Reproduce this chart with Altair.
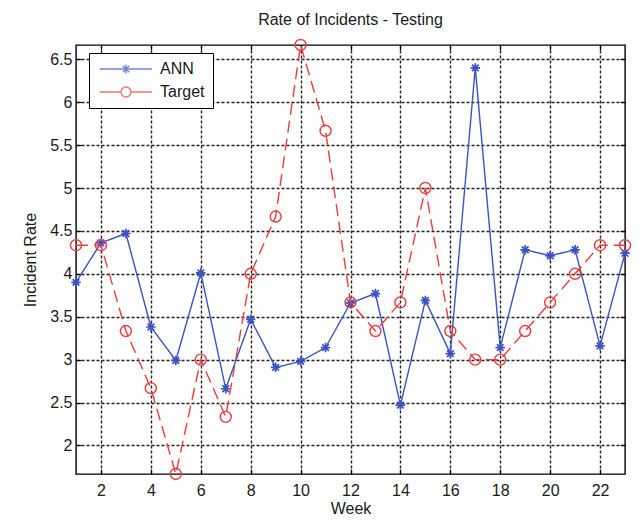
import altair as alt
import pandas as pd

# ---- data ----
weeks = list(range(1, 24))
ann = [3.90, 4.36, 4.47, 3.38, 2.99, 4.01, 2.66, 3.47, 2.91, 2.98, 3.14, 3.66,
       3.77, 2.47, 3.69, 3.07, 6.40, 3.14, 4.28, 4.21, 4.28, 3.16, 4.24]
target = [4.333, 4.333, 3.333, 2.667, 1.667, 3.0, 2.333, 4.0, 4.667, 6.667, 5.667, 3.667,
          3.333, 3.667, 5.0, 3.333, 3.0, 3.0, 3.333, 3.667, 4.0, 4.333, 4.333]
series_names = ["ANN", "Target"]
x_ticks = [2, 4, 6, 8, 10, 12, 14, 16, 18, 20, 22]
y_ticks = [2.0, 2.5, 3.0, 3.5, 4.0, 4.5, 5.0, 5.5, 6.0, 6.5]
x_domain = [1, 23]
y_domain = [1.6667, 6.6667]

# ---- styling ----
BLUE = "#3b53c2"
RED = "#ee3c3c"
TXT = "#1a1a1a"
GRID = "#222222"
FONT = "Liberation Sans"
W, H = 549, 429

df = pd.DataFrame({
    "Week": weeks + weeks,
    "Rate": ann + target,
    "Series": [series_names[0]] * len(weeks) + [series_names[1]] * len(weeks),
})

ASTERISK = "M-1,0L1,0M0,-1L0,1M-0.7,-0.7L0.7,0.7M-0.7,0.7L0.7,-0.7"
LEG_ANN = ("M-1,0L9.4,0M3.3,0L5.1,0M4.2,-0.9L4.2,0.9"
           "M3.56,-0.64L4.84,0.64M3.56,0.64L4.84,-0.64")
LEG_TGT = "M-1,0L3.2,0M5.2,0L9.4,0M3.2,0A1,1 0 1,0 5.2,0A1,1 0 1,0 3.2,0"


def xs():
    return alt.Scale(domain=x_domain, nice=False, zero=False)


def ys():
    return alt.Scale(domain=y_domain, nice=False, zero=False)


lab = dict(labelFont=FONT, titleFont=FONT, labelFontSize=16, titleFontSize=16,
           titleFontWeight="normal", labelColor=TXT, titleColor=TXT,
           domain=False, ticks=False, tickSize=0)
tk = dict(domain=False, ticks=True, tickSize=5, tickColor="black", tickWidth=1.2,
          labels=False, grid=False, offset=-5)

x_bottom = alt.Axis(values=x_ticks, title="Week", grid=True, gridColor=GRID,
                    gridDash=[3, 2], gridWidth=1.4, labelPadding=8, titlePadding=2, **lab)
y_left = alt.Axis(values=y_ticks, title="Incident Rate", format="~g", grid=True,
                  gridColor=GRID, gridDash=[3, 2], gridWidth=1.4, labelPadding=4,
                  titlePadding=11, **lab)
x_bottom_ticks = alt.Axis(orient="bottom", values=x_ticks, **tk)
y_left_ticks = alt.Axis(orient="left", values=y_ticks, **tk)
x_top_ticks = alt.Axis(orient="top", values=x_ticks, **tk)
y_right_ticks = alt.Axis(orient="right", values=y_ticks, **tk)

legend = alt.Legend(
    title=None, orient="none", legendX=13, legendY=8,
    fillColor="white", strokeColor="black", padding=8, cornerRadius=0,
    symbolSize=100, symbolStrokeWidth=1.4, symbolFillColor="transparent",
    labelOffset=47, rowPadding=7,
    labelFont=FONT, labelFontSize=16, labelColor=TXT,
)

base = alt.Chart(df)

ann_line = base.transform_filter(alt.datum.Series == "ANN").mark_line(
    color=BLUE, strokeWidth=1.4, clip=False
).encode(
    x=alt.X("Week:Q", scale=xs(), axis=x_bottom),
    y=alt.Y("Rate:Q", scale=ys(), axis=y_left),
)

ann_pts = base.transform_filter(alt.datum.Series == "ANN").mark_point(
    shape=ASTERISK, size=90, filled=False, color=BLUE, strokeWidth=1.7, opacity=1, clip=False
).encode(
    x=alt.X("Week:Q", scale=xs(), axis=x_bottom_ticks, title=None),
    y=alt.Y("Rate:Q", scale=ys(), axis=y_left_ticks, title=None),
)

tgt_line = base.transform_filter(alt.datum.Series == "Target").mark_line(
    color=RED, strokeWidth=1.4, strokeDash=[12, 6], clip=False
).encode(
    x=alt.X("Week:Q", scale=xs(), axis=x_top_ticks, title=None),
    y=alt.Y("Rate:Q", scale=ys(), axis=y_right_ticks, title=None),
)

tgt_pts = base.transform_filter(alt.datum.Series == "Target").mark_point(
    shape="circle", size=121, filled=False, color=RED, strokeWidth=1.4, opacity=1, clip=False
).encode(
    x=alt.X("Week:Q", scale=xs(), axis=None),
    y=alt.Y("Rate:Q", scale=ys(), axis=None),
)

# legend only: empty layer whose scales carry the legend symbols
legend_layer = base.transform_filter("false").mark_point(filled=False, strokeWidth=1.4).encode(
    x=alt.X("Week:Q", scale=xs(), axis=None),
    y=alt.Y("Rate:Q", scale=ys(), axis=None),
    color=alt.Color("Series:N", scale=alt.Scale(domain=series_names, range=[BLUE, RED]),
                    legend=legend),
    shape=alt.Shape("Series:N", scale=alt.Scale(domain=series_names, range=[LEG_ANN, LEG_TGT]),
                    legend=legend),
)

chart = alt.layer(ann_line, ann_pts, tgt_line, tgt_pts, legend_layer).resolve_scale(
    x="independent", y="independent"
).properties(
    width=W, height=H,
    title=alt.TitleParams("Rate of Incidents - Testing", font=FONT, fontSize=16,
                          fontWeight="normal", color=TXT, offset=9, anchor="middle"),
    background="white",
    padding={"left": 76, "top": 45, "right": 14, "bottom": 49},
    autosize=alt.AutoSizeParams(type="none"),
).configure_view(stroke="black", strokeWidth=1.4, fill="white")

chart.save("out.html", embed_options={"renderer": "svg", "actions": False})
